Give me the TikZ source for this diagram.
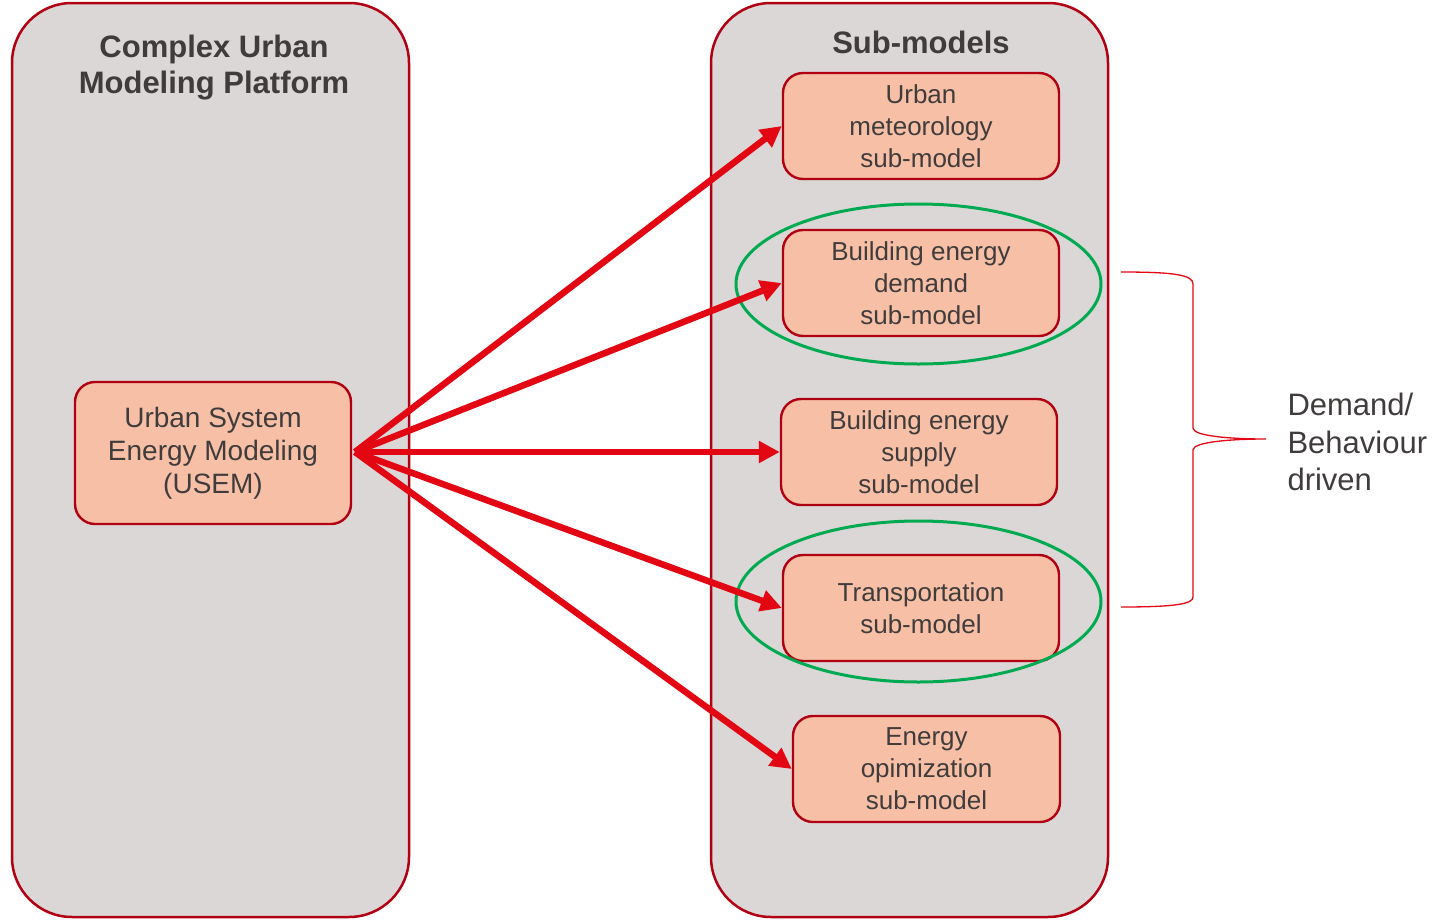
\documentclass[tikz,border=0pt]{standalone}
\usepackage{fontspec}
\setmainfont{Liberation Sans}
\usetikzlibrary{arrows.meta}
\definecolor{panelfill}{RGB}{219,215,215}
\definecolor{darkred}{RGB}{176,0,18}
\definecolor{boxfill}{RGB}{247,192,166}
\definecolor{txt}{RGB}{64,60,60}
\definecolor{arrowred}{RGB}{227,6,19}
\definecolor{ringgreen}{RGB}{0,170,80}
\begin{document}
\begin{tikzpicture}[x=1pt,y=-1pt,
  panel/.style={draw=darkred, line width=2.5pt, fill=panelfill, rounded corners=60pt},
  model/.style={draw=darkred, line width=2.4pt, fill=boxfill, rounded corners=20pt,
    minimum width=276pt, minimum height=106pt, inner sep=0pt, align=center,
    text=txt, font=\fontsize{26}{32}\selectfont},
  heading/.style={text=txt, align=center, font=\fontsize{31}{36}\selectfont\bfseries},
  ring/.style={draw=ringgreen, line width=3pt},
  feed/.style={draw=arrowred, line width=6.5pt, -{Triangle[length=21pt,width=21pt]}},
  brace/.style={draw=arrowred, line width=1.3pt}]
\useasboundingbox (0,0) rectangle (1444,919);

% the two container panels
\draw[panel] (12,3) rectangle (409,917);
\draw[panel] (711,3) rectangle (1108,917);
\node[heading] (platform) at (214,68) {Complex Urban\\Modeling Platform};
\node[heading] (subs) at (921,42) {Sub-models};

% central model
\node[model, minimum height=142pt, font=\fontsize{28}{33}\selectfont] (usem) at (213,453)
  {Urban System\\Energy Modeling\\(USEM)};

% sub-models
\node[model] (met) at (921,126) {Urban\\meteorology\\sub-model};
\node[model] (dem) at (921,283) {Building energy\\demand\\sub-model};
\node[model] (sup) at (919,452) {Building energy\\supply\\sub-model};
\node[model] (tra) at (921,608) {Transportation\\sub-model};
\node[model, minimum width=267pt] (opt) at (926.5,769) {Energy\\opimization\\sub-model};

% highlight rings around demand-driven models
\draw[ring] (918.5,284) ellipse [x radius=182.5pt, y radius=80pt];
\draw[ring] (918.5,601.5) ellipse [x radius=182.5pt, y radius=80.5pt];

% links from USEM to every sub-model
\coordinate (hub) at (355,452);
\foreach \t in {met,dem,sup,tra,opt}
  \draw[feed] (hub) -- (\t.west);

% brace grouping the demand-driven models
\draw[brace] (1121,272) .. controls (1175,272) and (1193,275) .. (1193,284)
  -- (1193,428) .. controls (1193,436) and (1230,439) .. (1266,439)
  .. controls (1230,439) and (1193,442) .. (1193,450)
  -- (1193,597) .. controls (1193,604) and (1175,607) .. (1121,607);
\node[anchor=west, align=left, text=txt, font=\fontsize{31}{37.5}\selectfont] (demand) at (1284,442)
  {Demand/\\Behaviour\\driven};
\end{tikzpicture}
\end{document}
